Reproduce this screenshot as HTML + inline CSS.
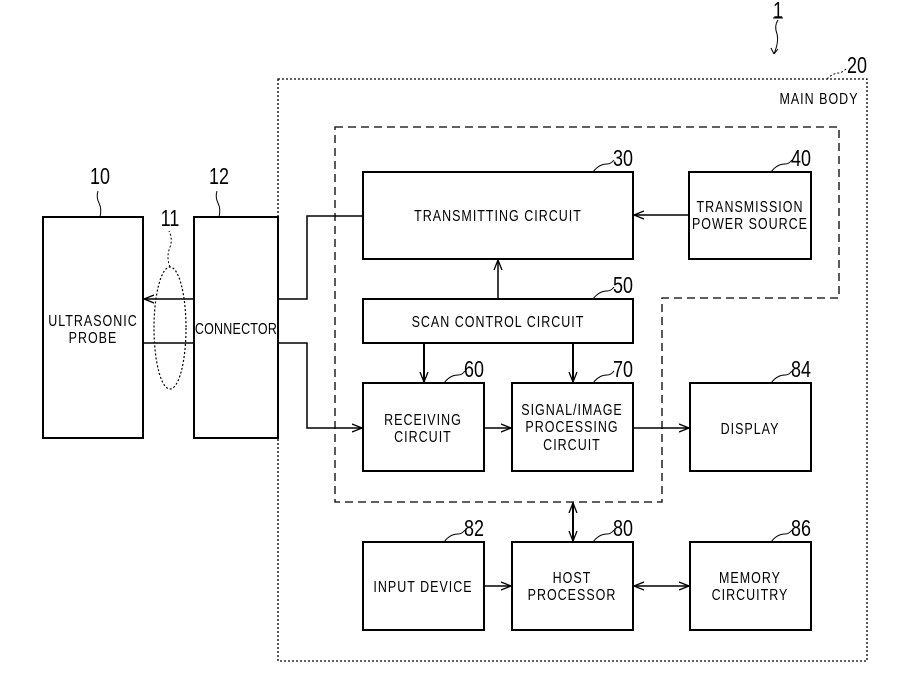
<!DOCTYPE html>
<html><head><meta charset="utf-8"><style>
html,body{margin:0;padding:0;background:#fff;}
svg text{font-family:"Liberation Sans",sans-serif;font-size:16px;letter-spacing:1.3px;fill:#000;transform:scaleX(0.78);transform-box:fill-box;transform-origin:center;}
svg text.n{font-size:23px;letter-spacing:0;}
svg text.c{letter-spacing:0.3px;}
</style></head><body>
<svg width="899" height="689" viewBox="0 0 899 689" xmlns="http://www.w3.org/2000/svg">
<defs>
<marker id="a" markerWidth="12" markerHeight="10" refX="10" refY="5" orient="auto-start-reverse" markerUnits="userSpaceOnUse">
<path d="M0,1 L10,5 L0,9" fill="none" stroke="#000" stroke-width="1.3"/>
</marker>
</defs>
<g fill="none" stroke="#000">
<rect x="278" y="79" width="589" height="582" stroke-dasharray="2,2" stroke-width="1.3"/>
<path d="M335,127 H839 V298 H662 V502 H335 Z" stroke-dasharray="8,5" stroke-width="1.3"/>
<g stroke-width="2">
<rect x="43" y="217" width="100" height="221"/>
<rect x="194" y="217" width="84" height="221"/>
<rect x="363" y="172" width="270" height="87"/>
<rect x="689" y="172" width="122" height="87"/>
<rect x="363" y="299" width="270" height="44"/>
<rect x="363" y="383" width="121" height="88"/>
<rect x="512" y="383" width="121" height="88"/>
<rect x="690" y="383" width="121" height="88"/>
<rect x="363" y="542" width="121" height="88"/>
<rect x="512" y="542" width="121" height="88"/>
<rect x="690" y="542" width="121" height="88"/>
</g>
<g stroke-width="1.5">
<line x1="194" y1="299" x2="144" y2="299" marker-end="url(#a)"/>
<line x1="194" y1="343" x2="143" y2="343"/>
<path d="M278,299 H307 V216 H363"/>
<path d="M278,343 H307 V428 H362" marker-end="url(#a)"/>
<line x1="689" y1="215" x2="634" y2="215" marker-end="url(#a)"/>
<line x1="498" y1="299" x2="498" y2="260" marker-end="url(#a)"/>
<line x1="424" y1="343" x2="424" y2="382" marker-end="url(#a)" stroke-width="2"/>
<line x1="573" y1="343" x2="573" y2="382" marker-end="url(#a)" stroke-width="2"/>
<line x1="484" y1="428" x2="511" y2="428" marker-end="url(#a)"/>
<line x1="633" y1="428" x2="689" y2="428" marker-end="url(#a)"/>
<line x1="573" y1="503" x2="573" y2="541" marker-start="url(#a)" marker-end="url(#a)" stroke-width="2"/>
<line x1="484" y1="586" x2="511" y2="586" marker-end="url(#a)"/>
<line x1="634" y1="586" x2="689" y2="586" marker-start="url(#a)" marker-end="url(#a)"/>
</g>
<ellipse cx="170" cy="328" rx="16" ry="61" stroke-dasharray="2,2" stroke-width="1.2"/>
<g stroke-width="1">
<path d="M170,267 q-4,-10 0,-20 q3,-8 -1,-16" stroke-dasharray="2,2"/>
<path d="M100,217 q2,-8 -1,-14 q-3,-6 -1,-12"/>
<path d="M219,217 q2,-8 -1,-14 q-3,-6 -1,-12"/>
<path d="M593,172 q6,-8 14,-8 q4,0 7,-4"/>
<path d="M771,172 q6,-8 14,-8 q4,0 7,-4"/>
<path d="M593,299 q6,-8 14,-8 q4,0 7,-4"/>
<path d="M444,383 q6,-8 14,-8 q4,0 7,-4"/>
<path d="M593,383 q6,-8 14,-8 q4,0 7,-4"/>
<path d="M771,383 q6,-8 14,-8 q4,0 7,-4"/>
<path d="M444,542 q6,-8 14,-8 q4,0 7,-4"/>
<path d="M593,542 q6,-8 14,-8 q4,0 7,-4"/>
<path d="M771,542 q6,-8 14,-8 q4,0 7,-4"/>
<path d="M827,79 q6,-6 12,-6 q4,-1 7,-4" stroke-dasharray="2,2"/>
<path d="M778,20 q-4,6 -1,14 q2,8 -3,20"/>
<path d="M774,54 l-3,-6 M774,54 l4,-5"/>
<line x1="773" y1="18" x2="783" y2="18"/>
</g>
</g>
<g text-anchor="middle">
<text class="n" x="100" y="184">10</text>
<text class="n" x="219" y="184">12</text>
<text class="n" x="170" y="226">11</text>
<text class="n" x="778" y="18">1</text>
<text class="n" x="857" y="73">20</text>
<text class="n" x="623" y="166">30</text>
<text class="n" x="801" y="166">40</text>
<text class="n" x="623" y="293">50</text>
<text class="n" x="474" y="377">60</text>
<text class="n" x="623" y="377">70</text>
<text class="n" x="801" y="377">84</text>
<text class="n" x="474" y="536">82</text>
<text class="n" x="623" y="536">80</text>
<text class="n" x="801" y="536">86</text>
<text x="93" y="326">ULTRASONIC</text>
<text x="93" y="343">PROBE</text>
<text class="c" x="236" y="334">CONNECTOR</text>
<text x="498" y="221">TRANSMITTING CIRCUIT</text>
<text x="750" y="212">TRANSMISSION</text>
<text x="750" y="229">POWER SOURCE</text>
<text x="498" y="327">SCAN CONTROL CIRCUIT</text>
<text x="423" y="425">RECEIVING</text>
<text x="423" y="442">CIRCUIT</text>
<text x="572" y="415">SIGNAL/IMAGE</text>
<text x="572" y="432">PROCESSING</text>
<text x="572" y="450">CIRCUIT</text>
<text x="750" y="434">DISPLAY</text>
<text x="423" y="592">INPUT DEVICE</text>
<text x="572" y="583">HOST</text>
<text x="572" y="600">PROCESSOR</text>
<text x="750" y="583">MEMORY</text>
<text x="750" y="600">CIRCUITRY</text>
<text x="819" y="104">MAIN BODY</text>
</g>
</svg>
</body></html>
